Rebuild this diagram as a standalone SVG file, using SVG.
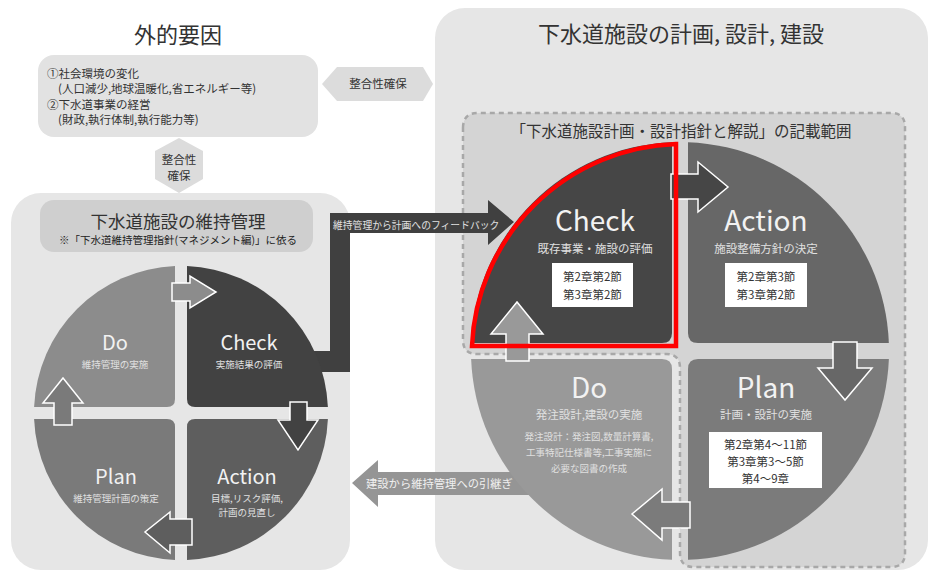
<svg xmlns="http://www.w3.org/2000/svg" width="931" height="572" viewBox="0 0 931 572">
<style>
text{font-family:"Noto Sans CJK JP","Noto Sans",sans-serif;}
.dk{fill:#333;}
.mid{text-anchor:middle;}
.big{fill:#f2f2f2;text-anchor:middle;}
.sub{fill:#e0e0e0;text-anchor:middle;}
.arr{stroke:#fff;stroke-width:1.5;stroke-linejoin:miter;}
.ref{fill:#333;text-anchor:middle;font-size:11.5px;}
</style>
<rect width="931" height="572" fill="#fff"/>

<g id="external">
<text x="178" y="43" class="dk mid" font-size="22">外的要因</text>
<rect x="38" y="55" width="280" height="82" rx="16" fill="#e2e2e2"/>
<text x="47" y="78" class="dk" font-size="11.5">①社会環境の変化</text>
<text x="58" y="93" class="dk" font-size="11.5">(人口減少,地球温暖化,省エネルギー等)</text>
<text x="47" y="109" class="dk" font-size="11.5">②下水道事業の経営</text>
<text x="58" y="124" class="dk" font-size="11.5">(財政,執行体制,執行能力等)</text>
</g>

<g id="hex-h">
<polygon points="322,84 337,67 423,67 433,84 423,101 337,101" fill="#dcdcdc"/>
<text x="378" y="88" class="dk mid" font-size="11.5">整合性確保</text>
</g>
<g id="hex-v">
<polygon points="179,138 203,151 203,179 179,193 155,179 155,151" fill="#dcdcdc"/>
<text x="179" y="164" class="dk mid" font-size="11.5">整合性</text>
<text x="179" y="180" class="dk mid" font-size="11.5">確保</text>
</g>

<g id="right-panel">
<rect x="435" y="8" width="493" height="562" rx="30" fill="#e6e6e6"/>
<text x="681" y="42" class="dk mid" font-size="22">下水道施設の計画, 設計, 建設</text>
<path d="M463 128 Q463 113 478 113 L891 113 Q905 113 905 127 L905 553 Q905 567 891 567 L694 567 Q680 567 680 553 L680 368 Q680 354 666 354 L477 354 Q463 354 463 340 Z" fill="#d4d4d4" stroke="#a8a8a8" stroke-width="2.5" stroke-dasharray="5 4"/>
<text x="681" y="137" class="dk mid" font-size="15.5">「下水道施設計画・設計指針と解説」の記載範囲</text>
</g>

<g id="left-panel">
<rect x="11" y="193" width="339" height="377" rx="30" fill="#e6e6e6"/>
<rect x="40" y="200" width="273" height="52" rx="14" fill="#cfcfcf"/>
<text x="178" y="228" class="dk mid" font-size="17.5">下水道施設の維持管理</text>
<text x="178" y="244" class="mid" fill="#222" font-size="10.5">※「下水道維持管理指針(マネジメント編)」に依る</text>
</g>

<g id="connectors">
<path d="M300 351 L330 351 L330 213 L488 213 L488 200 L514 222 L488 245 L488 233 L350 233 L350 372 L300 372 Z" fill="#404040"/>
<text x="333" y="229" fill="#e0e0e0" font-size="9.8">維持管理から計画へのフィードバック</text>
<path d="M540 472 L378 472 L378 460 L352 483 L378 507 L378 495 L540 495 Z" fill="#959595"/>
<text x="366" y="488" fill="#f0f0f0" font-size="11.3">建設から維持管理への引継ぎ</text>
</g>

<g id="left-do">
<path d="M34.1 407 A147 147 0 0 1 175 266.1 L175 399 Q175 407 167 407 Z" fill="#8c8c8c"/>
<text x="115" y="350" class="big" font-size="20">Do</text>
<text x="115" y="368" class="sub" font-size="9.5">維持管理の実施</text>
</g>
<g id="left-check">
<path d="M187 266.1 A147 147 0 0 1 327.9 407 L195 407 Q187 407 187 399 Z" fill="#424242"/>
<text x="249" y="350" class="big" font-size="20">Check</text>
<text x="249" y="368" class="sub" font-size="9.5">実施結果の評価</text>
</g>
<g id="left-action">
<path d="M327.9 419 A147 147 0 0 1 187 559.9 L187 427 Q187 419 195 419 Z" fill="#5e5e5e"/>
<text x="247" y="484" class="big" font-size="20">Action</text>
<text x="247" y="502" class="sub" font-size="9.5">目標,リスク評価,</text>
<text x="247" y="516" class="sub" font-size="9.5">計画の見直し</text>
</g>
<g id="left-plan">
<path d="M175 559.9 A147 147 0 0 1 34.1 419 L167 419 Q175 419 175 427 Z" fill="#7a7a7a"/>
<text x="116" y="484" class="big" font-size="20">Plan</text>
<text x="116" y="502" class="sub" font-size="9.5">維持管理計画の策定</text>
</g>

<g id="left-arrows">
<path class="arr" d="M172 283 L190 283 L190 276 L216 292 L190 308 L190 301 L172 301 Z" fill="#8c8c8c"/>
<path class="arr" d="M290 402 L290 420 L278 420 L298 450 L318 420 L307 420 L307 402 Z" fill="#424242"/>
<path class="arr" d="M192 519 L170 519 L170 512 L145 532 L170 553 L170 545 L192 545 Z" fill="#5e5e5e"/>
<path class="arr" d="M54 425 L54 403 L43 403 L63 378 L83 403 L72 403 L72 425 Z" fill="#7a7a7a"/>
</g>

<g id="right-check">
<path d="M471.15 343 A209 209 0 0 1 672 142.15 L672 333 Q672 343 662 343 Z" fill="#464646"/>
<text x="595" y="231" class="big" font-size="28">Check</text>
<text x="595" y="253" class="sub" font-size="11.5">既存事業・施設の評価</text>
<rect x="552" y="263" width="81" height="44" fill="#fff"/>
<text x="592.5" y="281" class="ref">第2章第2節</text>
<text x="592.5" y="299" class="ref">第3章第2節</text>
</g>
<g id="right-action">
<path d="M688 142.15 A209 209 0 0 1 888.85 343 L698 343 Q688 343 688 333 Z" fill="#676767"/>
<text x="766" y="231" class="big" font-size="28">Action</text>
<text x="766" y="253" class="sub" font-size="11.5">施設整備方針の決定</text>
<rect x="725" y="263" width="82" height="44" fill="#fff"/>
<text x="766" y="281" class="ref">第2章第3節</text>
<text x="766" y="299" class="ref">第3章第2節</text>
</g>
<g id="right-plan">
<path d="M888.85 359 A209 209 0 0 1 688 559.85 L688 369 Q688 359 698 359 Z" fill="#7b7b7b"/>
<text x="766" y="398" class="big" font-size="28">Plan</text>
<text x="766" y="419" class="sub" font-size="11.5">計画・設計の実施</text>
<rect x="709" y="432" width="113" height="56" fill="#fff"/>
<text x="765.5" y="449" class="ref" font-size="12">第2章第4～11節</text>
<text x="765.5" y="466" class="ref" font-size="12">第3章第3～5節</text>
<text x="765.5" y="483" class="ref" font-size="12">第4～9章</text>
</g>
<g id="right-do">
<path d="M672 559.85 A209 209 0 0 1 471.15 359 L662 359 Q672 359 672 369 Z" fill="#999"/>
<text x="589" y="398" class="big" font-size="28">Do</text>
<text x="589" y="419" class="sub" font-size="11.5">発注設計,建設の実施</text>
<text x="589" y="440" class="sub" font-size="9.5">発注設計：発注図,数量計算書,</text>
<text x="589" y="456" class="sub" font-size="9.5">工事特記仕様書等,工事実施に</text>
<text x="589" y="472" class="sub" font-size="9.5">必要な図書の作成</text>
</g>

<g id="right-arrows">
<path class="arr" d="M671 174 L698 174 L698 162 L728 187 L698 212 L698 199 L671 199 Z" fill="#464646"/>
<path class="arr" d="M833 342 L833 368 L818 368 L845 400 L872 368 L857 368 L857 342 Z" fill="#676767"/>
<path class="arr" d="M690 502 L662 502 L662 489 L632 514 L662 540 L662 528 L690 528 Z" fill="#7b7b7b"/>
<path class="arr" d="M506 361 L506 334 L491 334 L517 302 L543 334 L529 334 L529 361 Z" fill="#999"/>
</g>

<g id="highlight">
<path d="M472 346 A211 211 0 0 1 676 144 L676 346 Z" fill="none" stroke="#f00" stroke-width="4.5" stroke-linejoin="miter"/>
</g>
</svg>
